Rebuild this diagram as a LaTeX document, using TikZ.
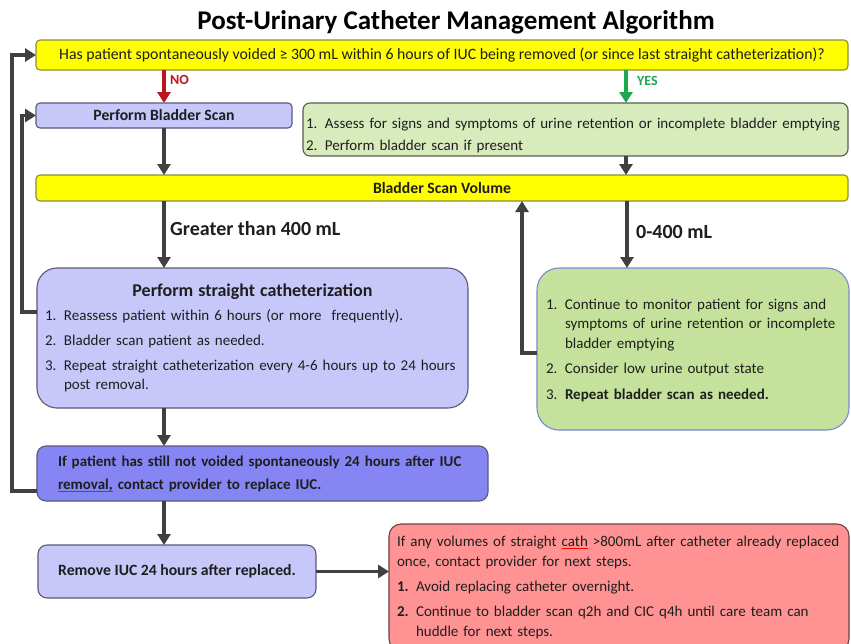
\documentclass[tikz,border=0pt]{standalone}
\usepackage{fontspec}
\setmainfont{Carlito}
\usetikzlibrary{arrows.meta,calc}
\definecolor{ybar}{HTML}{FFFF00}
\definecolor{ybord}{HTML}{8C8C3C}
\definecolor{lav}{HTML}{C7C7FA}
\definecolor{lavbord}{HTML}{5A5A78}
\definecolor{gonefill}{HTML}{D7EBBD}
\definecolor{gonebord}{HTML}{555F4A}
\definecolor{gtwofill}{HTML}{C4E29B}
\definecolor{gtwobord}{HTML}{7C88D6}
\definecolor{bluefill}{HTML}{8585F4}
\definecolor{redfill}{HTML}{FF9393}
\definecolor{redbord}{HTML}{6E4040}
\definecolor{arrowc}{HTML}{404040}
\definecolor{nored}{HTML}{C0141C}
\definecolor{yesgreen}{HTML}{1FA750}
\definecolor{txt}{HTML}{1E1E1E}
\definecolor{ulblue}{HTML}{2E50D0}
\newcommand{\fsz}[2]{\fontsize{#1}{#2}\selectfont}
\newcommand{\itm}[2]{\par\noindent\hangindent=19pt\hangafter=1\makebox[19pt][l]{#1}#2}
\newlength{\ulw}
\newcommand{\colul}[3]{\settowidth{\ulw}{#3}\leavevmode\rlap{\textcolor{#1}{\rule[#2]{\ulw}{0.7pt}}}#3}
\begin{document}
\begin{tikzpicture}[x=1pt,y=-1pt,
  box/.style={draw, line width=1.1pt, rounded corners=4pt, inner sep=0pt, outer sep=0pt, text=txt},
  arr/.style={draw=arrowc, line width=3.6pt, -{Triangle[width=13pt,length=11pt]}},
  lbl/.style={anchor=west, inner sep=0pt, font=\bfseries}]
\useasboundingbox (0,0) rectangle (851,643);
\fill[white] (0,0) rectangle (851,643);

\node[inner sep=0pt, font=\bfseries\fsz{27}{30}, text=black] (title) at (456,22) {Post-Urinary Catheter Management Algorithm};

\node[box, fill=ybar, draw=ybord, minimum width=812pt, minimum height=30pt, font=\fsz{15.8}{18}] (top) at (442,55)
  {Has patient spontaneously voided ≥ 300 mL within 6 hours of IUC being removed (or since last straight catheterization)?};

\node[box, fill=lav, draw=lavbord, minimum width=256pt, minimum height=25pt, font=\bfseries\fsz{15.7}{18}] (pbs) at (164,115.5) {Perform Bladder Scan};

\node[box, fill=gonefill, draw=gonebord, rounded corners=7pt, minimum width=545pt, minimum height=53pt, inner xsep=3pt,
  text width=539pt, align=left, font=\fsz{15}{22}] (gone) at (575.5,129.5)
  {\itm{1.}{Assess for signs and symptoms of urine retention or incomplete bladder emptying}\itm{2.}{Perform bladder scan if present}\par};

\node[box, fill=ybar, draw=ybord, minimum width=812pt, minimum height=26pt, font=\bfseries\fsz{15.7}{18}] (bsv) at (442,188) {Bladder Scan Volume};

\node[box, fill=lav, draw=lavbord, rounded corners=20pt, minimum width=431pt, minimum height=140pt, inner xsep=8pt,
  text width=415pt, align=left, font=\fsz{15}{19}] (cath) at (252.5,338)
  {\setlength{\parskip}{6pt}{\centering\bfseries\fsz{18}{19}Perform straight catheterization\par}\vspace{-1pt}%
   \itm{1.}{Reassess patient within 6 hours (or more \ frequently).}%
   \itm{2.}{Bladder scan patient as needed.}%
   \itm{3.}{Repeat straight catheterization every 4-6 hours up to 24 hours\newline post removal.}\par};

\node[box, fill=gtwofill, draw=gtwobord, rounded corners=22pt, minimum width=312pt, minimum height=162pt, inner xsep=9pt,
  text width=294pt, align=left, font=\fsz{15}{19.5}] (gtwo) at (693,349)
  {\setlength{\parskip}{6pt}%
   \itm{1.}{Continue to monitor patient for signs and\newline symptoms of urine retention or incomplete\newline bladder emptying}%
   \itm{2.}{Consider low urine output state}%
   \itm{3.}{\bfseries Repeat bladder scan as needed.}\par\vspace{13pt}};

\node[box, fill=bluefill, draw=lavbord, rounded corners=9pt, minimum width=451pt, minimum height=55pt, inner xsep=21pt,
  text width=409pt, align=left, font=\bfseries\fsz{15}{23}] (blue) at (262.5,473.5)
  {If patient has still not voided spontaneously 24 hours after IUC\\ \colul{ulblue}{-2.5pt}{removal,} contact provider to replace IUC.};

\node[box, fill=lav, draw=lavbord, rounded corners=9pt, minimum width=278pt, minimum height=53pt, font=\bfseries\fsz{15.7}{18}] (remove) at (177,571.5)
  {Remove IUC 24 hours after replaced.};

\node[box, fill=redfill, draw=redbord, rounded corners=12pt, anchor=north west, minimum width=460pt, inner xsep=8pt, inner ysep=12pt,
  text width=444pt, align=left, font=\fsz{15}{20}] (red) at (389,524)
  {\setlength{\parskip}{5pt}%
   \noindent If any volumes of straight \colul{red}{-2.2pt}{cath} >800mL after catheter already replaced\newline once, contact provider for next steps.%
   \itm{\bfseries 1.}{Avoid replacing catheter overnight.}%
   \itm{\bfseries 2.}{Continue to bladder scan q2h and CIC q4h until care team can\newline huddle for next steps.}\par};

% NO / YES
\draw[draw=nored, line width=3.6pt, -{Triangle[width=13pt,length=11pt]}] (top.south -| pbs.north) -- (pbs.north);
\node[lbl, text=nored, font=\bfseries\fsz{14}{16}] (no) at (170,80) {NO};
\draw[draw=yesgreen, line width=3.6pt, -{Triangle[width=13pt,length=11pt]}] ([xshift=50.5pt]top.south -| gone.north) -- ([xshift=50.5pt]gone.north);
\node[lbl, text=yesgreen, font=\bfseries\fsz{14}{16}] (yes) at (637,81) {YES};

\draw[arr] (pbs.south) -- (bsv.north -| pbs.south);
\draw[arr] ([xshift=50.5pt]gone.south) -- ([xshift=50.5pt]bsv.north -| gone.south);

\draw[arr] (bsv.south -| pbs.south) -- (cath.north -| pbs.south);
\node[lbl, text=txt, font=\bfseries\fsz{20}{22}] (gt) at (170,229) {Greater than 400 mL};
\draw[arr] ([xshift=-66pt]bsv.south -| gtwo.north) -- ([xshift=-66pt]gtwo.north);
\node[lbl, text=txt, font=\bfseries\fsz{20}{22}] (lo) at (636,232) {0-400 mL};

\draw[arr] ([yshift=-4pt]gtwo.west) -| ([xshift=80pt]bsv.south);
\draw[arr] ([yshift=26pt]cath.west) -- ++(-15,0) |- (pbs.west);
\draw[arr] ([yshift=-17.5pt]blue.west) -- ++(-25,0) |- (top.west);

\draw[arr] (cath.south -| pbs.south) -- (blue.north -| pbs.south);
\draw[arr] (blue.south -| pbs.south) -- (remove.north -| pbs.south);
\draw[arr] (remove.east) -- (red.west |- remove.east);
\end{tikzpicture}
\end{document}
